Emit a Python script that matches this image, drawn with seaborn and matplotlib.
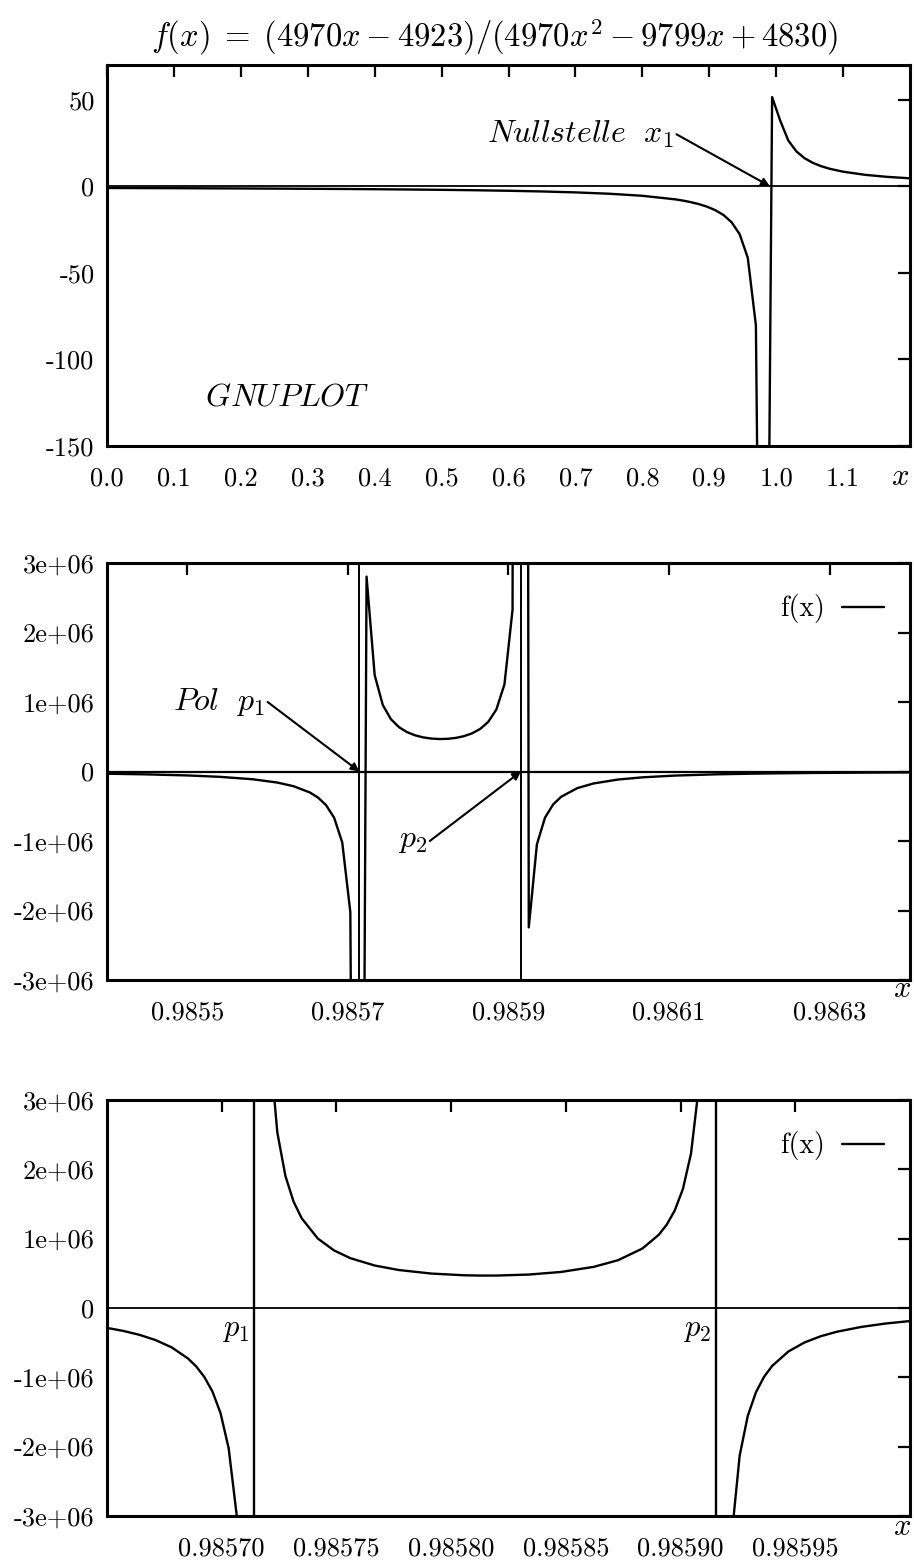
import matplotlib
matplotlib.use('Agg')
import matplotlib.pyplot as plt
import pandas as pd
import seaborn as sns
from matplotlib.lines import Line2D

# ---- panel 1: overview 0 .. 1.2 ----
x_top = [0.0, 0.1, 0.2, 0.3, 0.35, 0.4, 0.45, 0.5, 0.55, 0.6, 0.65, 0.7, 0.75,
         0.8, 0.85, 0.86061, 0.87273, 0.88485, 0.89697, 0.90909, 0.92121,
         0.93333, 0.94545, 0.95758, 0.96970, 0.98182, 0.99394, 1.00606,
         1.01818, 1.03030, 1.04242, 1.05455, 1.06667, 1.08, 1.1, 1.13333,
         1.16667, 1.2]
y_top = [-1.019, -1.135, -1.280, -1.468, -1.585, -1.721, -1.883, -2.078,
         -2.319, -2.624, -3.020, -3.557, -4.326, -5.519, -7.619, -8.289,
         -9.213, -10.368, -11.855, -13.84, -16.61, -20.77, -27.68, -41.35,
         -80.27, -547.0, 51.46, 37.86, 26.38, 20.09, 16.19, 13.55, 11.64,
         10.08, 8.395, 6.561, 5.385, 4.566]

# ---- panel 2: zoom 0.9854 .. 0.9864 ----
x_mid = [0.98540000, 0.98545051, 0.98550101, 0.98554141, 0.98558182,
         0.98561212, 0.98563232, 0.98565253, 0.98566263, 0.98567273,
         0.98568283, 0.98569293, 0.98570303, 0.98571313, 0.98572323,
         0.98573333, 0.98574343, 0.98575354, 0.98576364, 0.98577374,
         0.98578384, 0.98579394, 0.98580404, 0.98581414, 0.98582424,
         0.98583434, 0.98584444, 0.98585455, 0.98586465, 0.98587475,
         0.98588485, 0.98589495, 0.98590505, 0.98591515, 0.98592525,
         0.98593535, 0.98594545, 0.98595556, 0.98596566, 0.98598586,
         0.98600606, 0.98603636, 0.98606667, 0.98610707, 0.98615758,
         0.98620808, 0.98627879, 0.98640000]
y_mid = [-3.175e4, -4.152e4, -5.704e4, -7.734e4, -1.1225e5, -1.591e5,
         -2.116e5, -3.011e5, -3.736e5, -4.827e5, -6.640e5, -1.020e6,
         -2.023e6, -2.058e7, 2.804e6, 1.387e6, 9.573e5, 7.535e5, 6.378e5,
         5.659e5, 5.198e5, 4.905e5, 4.738e5, 4.673e5, 4.703e5, 4.833e5,
         5.081e5, 5.485e5, 6.119e5, 7.140e5, 8.911e5, 1.2526e6, 2.329e6,
         6.78e7, -2.243e6, -1.0495e6, -6.639e5, -4.747e5, -3.630e5,
         -2.385e5, -1.717e5, -1.158e5, -8.403e4, -5.895e4, -4.086e4,
         -3.000e4, -2.079e4, -1.247e4]

# ---- panel 3: zoom 0.98565 .. 0.98600, three branches ----
x_low_left = [0.98565000, 0.98565707, 0.98566414, 0.98567121, 0.98567828,
              0.98568535, 0.98568889, 0.98569242, 0.98569596, 0.98569949,
              0.98570303, 0.98570657, 0.98571010]
y_low_left = [-2.867e5, -3.304e5, -3.870e5, -4.629e5, -5.695e5, -7.294e5,
              -8.434e5, -9.943e5, -1.2045e6, -1.5163e6, -2.023e6, -2.999e6,
              -5.616e6]
x_low_centre = [0.98572071, 0.98572424, 0.98572778, 0.98573131, 0.98573485,
                0.98574192, 0.98574899, 0.98575606, 0.98576667, 0.98577727,
                0.98579141, 0.98580556, 0.98581263, 0.98581970, 0.98583384,
                0.98584798, 0.98586212, 0.98587273, 0.98588333, 0.98589040,
                0.98589394, 0.98589747, 0.98590101, 0.98590455, 0.98590808]
y_low_centre = [3.856e6, 2.532e6, 1.9016e6, 1.535e6, 1.2946e6, 1.0011e6,
                8.298e5, 7.188e5, 6.127e5, 5.475e5, 4.965e5, 4.722e5,
                4.676e5, 4.678e5, 4.824e5, 5.202e5, 5.932e5, 6.892e5,
                8.571e5, 1.0529e6, 1.2003e6, 1.4073e6, 1.7158e6, 2.2266e6,
                3.2236e6]
x_low_right = [0.98592222, 0.98592576, 0.98592929, 0.98593283, 0.98593636,
               0.98593990, 0.98594697, 0.98595404, 0.98596111, 0.98596818,
               0.98597879, 0.98598939, 0.98600000]
y_low_right = [-3.307e6, -2.1282e6, -1.5562e6, -1.2173e6, -9.940e5,
               -8.362e5, -6.277e5, -4.967e5, -4.071e5, -3.421e5, -2.727e5,
               -2.240e5, -1.882e5]

# poles and zero of f
pole_1 = 0.98571429
pole_2 = 0.98591549
zero_1 = 0.99054326

ticks_top = [0.0, 0.1, 0.2, 0.3, 0.4, 0.5, 0.6, 0.7, 0.8, 0.9, 1.0, 1.1]
ylabels_top = [-150, -100, -50, 0, 50]
ticks_mid = [0.9855, 0.9857, 0.9859, 0.9861, 0.9863]
ticks_low = [0.98570, 0.98575, 0.98580, 0.98585, 0.98590, 0.98595]
yticks_big = [-3e6, -2e6, -1e6, 0, 1e6, 2e6, 3e6]
ylabels_big = ['-3e+06', '-2e+06', '-1e+06', '0', '1e+06', '2e+06', '3e+06']

sns.set_style('white')
plt.rcParams['font.family'] = ['cmr10', 'DejaVu Serif']
plt.rcParams['mathtext.fontset'] = 'cm'
plt.rcParams['axes.unicode_minus'] = False
plt.rcParams['text.color'] = 'black'

W, H = 914, 1564
fig = plt.figure(figsize=(W / 100, H / 100), dpi=100)


def px_axes(left, top, right, bottom):
    return fig.add_axes([left / W, 1 - bottom / H, (right - left) / W, (bottom - top) / H])


def style(ax):
    for s in ax.spines.values():
        s.set_linewidth(2.2)
        s.set_color('black')
    ax.tick_params(direction='in', length=8.5, width=1.6, top=True, right=True,
                   labelsize=19, colors='black')
    ax.tick_params(axis='x', pad=15)
    ax.tick_params(axis='y', pad=9)
    ax.set_xlabel('')
    ax.set_ylabel('')


def xlabel(ax, dx, dy):
    ax.annotate('$x$', xy=(1, 0), xycoords='axes fraction', xytext=(dx, dy),
                textcoords='offset pixels', ha='center', va='center', fontsize=22)


def legend(ax, height_px):
    h = [Line2D([], [], color='black', lw=1.7)]
    ax.legend(h, ['f(x)'], loc='upper right', frameon=False, markerfirst=False,
              handlelength=1.5, handletextpad=0.6, fontsize=20,
              borderaxespad=0.55, bbox_to_anchor=(1, 1 - 5 / height_px))


def pointer(ax, label, start, tip, size=23):
    # label sits left of the arrow start, arrow goes to the point of interest
    ax.annotate('', xy=tip, xytext=start,
                arrowprops=dict(arrowstyle='-|>', color='black', lw=1.5,
                                shrinkA=0, shrinkB=0, mutation_scale=12))
    ax.annotate(label, xy=start, xytext=(-3, 0), textcoords='offset pixels',
                ha='right', va='center', fontsize=size)


# ---- panel 1 ----
ax1 = px_axes(107, 65, 910, 446)
df1 = pd.DataFrame({'x': x_top, 'y': y_top})
sns.lineplot(data=df1, x='x', y='y', ax=ax1, color='black', lw=1.7,
             estimator=None, sort=False)
ax1.axhline(0, color='black', lw=1.3)
ax1.set_xlim(0, 1.2)
ax1.set_ylim(-150, 70)
style(ax1)
ax1.set_xticks(ticks_top)
ax1.set_xticklabels([f'{t:.1f}' for t in ticks_top])
ax1.set_yticks(ylabels_top)
ax1.set_yticklabels([str(t) for t in ylabels_top])
ax1.set_title(r'$f(x)\;=\;(4970x-4923)/(4970x^2-9799x+4830)$',
              fontsize=23.5, pad=13, x=0.483)
pointer(ax1, r'$Nullstelle\ \ x_1$', (0.851, 30), (zero_1, 0))
ax1.text(0.146, -122, r'$GNUPLOT$', ha='left', va='center', fontsize=23)
xlabel(ax1, -10, -31)

# ---- panel 2 ----
ax2 = px_axes(107, 563, 910, 980)
df2 = pd.DataFrame({'x': x_mid, 'y': y_mid})
sns.lineplot(data=df2, x='x', y='y', ax=ax2, color='black', lw=1.7,
             estimator=None, sort=False)
ax2.axhline(0, color='black', lw=1.6)
ax2.axvline(pole_1, color='black', lw=1.4)
ax2.axvline(pole_2, color='black', lw=1.4)
ax2.set_xlim(0.9854, 0.9864)
ax2.set_ylim(-3e6, 3e6)
style(ax2)
ax2.set_xticks(ticks_mid)
ax2.set_xticklabels([f'{t:.4f}' for t in ticks_mid])
ax2.set_yticks(yticks_big)
ax2.set_yticklabels(ylabels_big)
pointer(ax2, r'$Pol\ \ p_1$', (0.98560, 1.0e6), (pole_1, 0))
pointer(ax2, r'$p_2$', (0.985802, -1.0e6), (pole_2, 0))
legend(ax2, 417)
xlabel(ax2, -8, -9)

# ---- panel 3 ----
ax3 = px_axes(107, 1100, 910, 1516)
df3 = pd.concat([
    pd.DataFrame({'x': x_low_left, 'y': y_low_left, 'branch': 'left'}),
    pd.DataFrame({'x': x_low_centre, 'y': y_low_centre, 'branch': 'centre'}),
    pd.DataFrame({'x': x_low_right, 'y': y_low_right, 'branch': 'right'}),
], ignore_index=True)
sns.lineplot(data=df3, x='x', y='y', units='branch', ax=ax3, color='black',
             lw=1.7, estimator=None, sort=False)
ax3.axhline(0, color='black', lw=1.3)
ax3.axvline(pole_1, color='black', lw=1.7)
ax3.axvline(pole_2, color='black', lw=1.7)
ax3.set_xlim(0.98565, 0.98600)
ax3.set_ylim(-3e6, 3e6)
style(ax3)
ax3.set_xticks(ticks_low)
ax3.set_xticklabels([f'{t:.5f}' for t in ticks_low])
ax3.set_yticks(yticks_big)
ax3.set_yticklabels(ylabels_big)
ax3.text(0.98570012, -3.2e5, r'$p_1$', ha='left', va='center', fontsize=22)
ax3.text(0.98590106, -3.2e5, r'$p_2$', ha='left', va='center', fontsize=22)
legend(ax3, 416)
xlabel(ax3, -8, -11)

fig.savefig('out.png', dpi=100)
